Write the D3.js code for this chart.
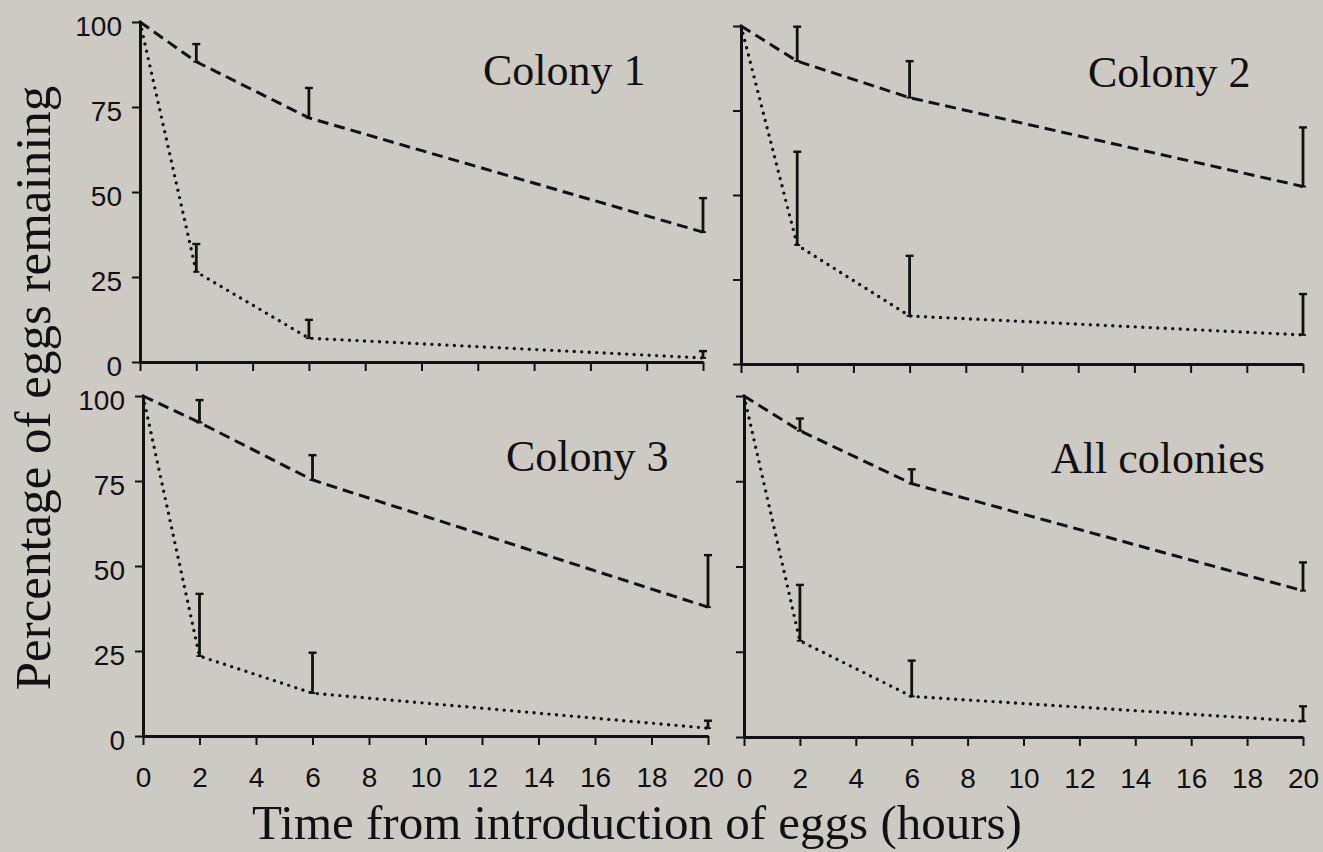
<!DOCTYPE html>
<html>
<head>
<meta charset="utf-8">
<script src="https://cdn.jsdelivr.net/npm/d3@7.9.0/dist/d3.min.js"></script>
<style>
  body { margin: 0; background: #cdc9c3; }
  svg { display: block; }
  .tick text { font-family: "Liberation Sans", Arial, sans-serif; fill: #111; }
</style>
</head>
<body>
<svg id="chart" width="1323" height="852"></svg>
<script>
// time points (hours) and axis ticks
const hours = [0, 2, 6, 20];
const xTicks = d3.range(0, 21, 2);
const yTicks = [0, 25, 50, 75, 100];
const panelNames = ["Colony 1", "Colony 2", "Colony 3", "All colonies"];

// dashed series: mean % remaining and error bar length, one row per panel
const dashedMeans = [
  [100, 88.3, 71.8, 38.2],
  [100, 89.6, 78.8, 52.5],
  [100, 92.2, 75.3, 37.9],
  [100, 89.8, 74.3, 42.9]
];
const dashedErrors = [
  [0, 5.2, 8.8, 10.0],
  [0, 10.2, 10.8, 17.5],
  [0, 6.6, 7.3, 15.3],
  [0, 3.6, 4.2, 8.3]
];

// dotted series
const dottedMeans = [
  [100, 26.5, 7.0, 1.2],
  [100, 35.2, 14.2, 8.6],
  [100, 23.5, 12.6, 2.3],
  [100, 28.2, 11.9, 4.6]
];
const dottedErrors = [
  [0, 8.2, 5.4, 2.0],
  [0, 27.6, 17.8, 12.1],
  [0, 18.3, 11.9, 2.2],
  [0, 16.4, 10.5, 4.4]
];

// where each panel sits on the page
const panels = [
  { left: 140, right: 703, top: 22, bottom: 362, xLabels: false, yLabels: true, titleX: 483, titleY: 85 },
  { left: 741, right: 1303, top: 26, bottom: 364, xLabels: false, yLabels: false, titleX: 1088, titleY: 87 },
  { left: 143, right: 708, top: 396, bottom: 736, xLabels: true, yLabels: true, titleX: 506, titleY: 471 },
  { left: 744, right: 1303, top: 396, bottom: 737, xLabels: true, yLabels: false, titleX: 1051, titleY: 473 }
];

const ink = "#111";
const svg = d3.select("#chart");

svg.append("rect").attr("width", 1323).attr("height", 852).attr("fill", "#cdc9c3");

panels.forEach((p, i) => {
  let x = d3.scaleLinear().domain([0, 20]).range([p.left, p.right]);
  let y = d3.scaleLinear().domain([0, 100]).range([p.bottom, p.top]);
  let g = svg.append("g");

  // axes
  let xAxis = d3.axisBottom(x).tickValues(xTicks).tickSize(9).tickSizeOuter(0).tickPadding(22)
    .tickFormat(p.xLabels ? d3.format("d") : "");
  let yAxis = d3.axisLeft(y).tickValues(yTicks).tickSize(8).tickSizeOuter(0).tickPadding(10)
    .tickFormat(p.yLabels ? d3.format("d") : "");

  let gx = g.append("g").attr("transform", `translate(0,${p.bottom})`).call(xAxis);
  let gy = g.append("g").attr("transform", `translate(${p.left},0)`).call(yAxis);

  [gx, gy].forEach(a => {
    a.select(".domain").attr("stroke", ink).attr("stroke-width", 3);
    a.selectAll(".tick line").attr("stroke", ink).attr("stroke-width", 2);
    a.selectAll(".tick text").attr("font-size", 28).attr("fill", ink);
  });
  gy.selectAll(".tick text").attr("dy", "0.48em");

  // series lines
  let line = d3.line().x(d => x(d.t)).y(d => y(d.v));
  let series = [
    { means: dashedMeans[i], errs: dashedErrors[i], dash: "11,6", width: 3, cap: "butt" },
    { means: dottedMeans[i], errs: dottedErrors[i], dash: "0,7.5", width: 3.4, cap: "round" }
  ];

  series.forEach(s => {
    let pts = hours.map((t, k) => ({ t: t, v: s.means[k], e: s.errs[k] }));
    g.append("path")
      .datum(pts)
      .attr("d", line)
      .attr("fill", "none")
      .attr("stroke", ink)
      .attr("stroke-width", s.width)
      .attr("stroke-dasharray", s.dash)
      .attr("stroke-linecap", s.cap);

    // error bars (upper only)
    let bars = g.selectAll(null).data(pts.filter(d => d.e > 0)).enter().append("g");
    bars.append("line")
      .attr("x1", d => x(d.t)).attr("x2", d => x(d.t))
      .attr("y1", d => y(d.v)).attr("y2", d => y(d.v + d.e))
      .attr("stroke", ink).attr("stroke-width", 2.8);
    bars.append("line")
      .attr("x1", d => x(d.t) - 4).attr("x2", d => x(d.t) + 4)
      .attr("y1", d => y(d.v + d.e)).attr("y2", d => y(d.v + d.e))
      .attr("stroke", ink).attr("stroke-width", 2.4);
    bars.append("line")
      .attr("x1", d => x(d.t) - 3).attr("x2", d => x(d.t) + 3)
      .attr("y1", d => y(d.v)).attr("y2", d => y(d.v))
      .attr("stroke", ink).attr("stroke-width", 1.8);
  });

  // panel title
  g.append("text")
    .attr("x", p.titleX).attr("y", p.titleY)
    .attr("font-family", '"Liberation Serif", "Times New Roman", serif')
    .attr("font-size", 44).attr("fill", ink)
    .text(panelNames[i]);
});

// shared axis titles
svg.append("text")
  .attr("transform", "translate(50,388) rotate(-90)")
  .attr("text-anchor", "middle")
  .attr("font-family", '"Liberation Serif", "Times New Roman", serif')
  .attr("font-size", 51).attr("fill", ink)
  .text("Percentage of eggs remaining");

svg.append("text")
  .attr("x", 637).attr("y", 839)
  .attr("text-anchor", "middle")
  .attr("font-family", '"Liberation Serif", "Times New Roman", serif')
  .attr("font-size", 49).attr("fill", ink)
  .text("Time from introduction of eggs (hours)");
</script>
</body>
</html>
